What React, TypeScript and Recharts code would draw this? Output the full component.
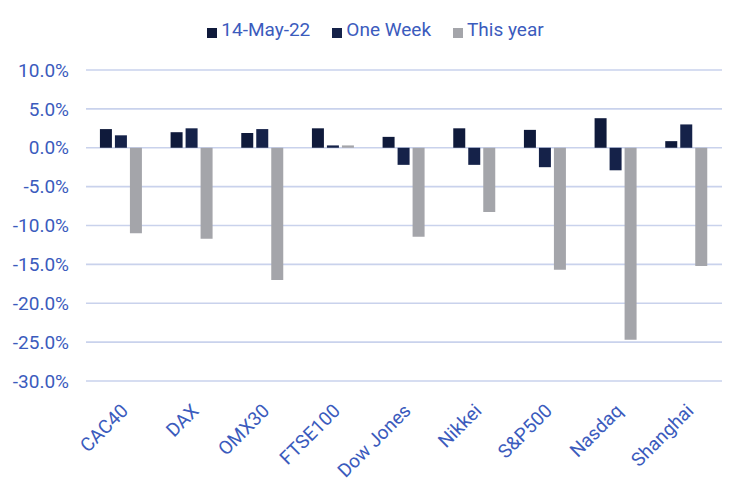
import React from "react";
import { BarChart, Bar, XAxis, YAxis, CartesianGrid, Legend } from "recharts";

const categories = ["CAC40", "DAX", "OMX30", "FTSE100", "Dow Jones", "Nikkei", "S&P500", "Nasdaq", "Shanghai"];
const may14 = [2.4, 2.0, 1.9, 2.5, 1.4, 2.5, 2.3, 3.8, 0.85];
const oneWeek = [1.6, 2.5, 2.4, 0.3, -2.2, -2.2, -2.5, -2.9, 3.0];
const thisYear = [-11.0, -11.7, -17.0, 0.3, -11.45, -8.25, -15.7, -24.7, -15.2];
const yTicks = [-30, -25, -20, -15, -10, -5, 0, 5, 10];

const seriesNames = ["14-May-22", "One Week", "This year"];
const seriesKeys = ["may14", "oneWeek", "thisYear"];
const seriesColors = ["#0f1a3b", "#152249", "#a4a5aa"];

const data = categories.map((c, i) => ({
  name: c,
  may14: may14[i],
  oneWeek: oneWeek[i],
  thisYear: thisYear[i],
}));

const FONT = "Roboto, 'Noto Sans', sans-serif";
const TEXT = "#3b5bbd";
const FS = 19;

const XTick = (props: any) => {
  const { x, y, payload } = props;
  const px = x + 8;
  const py = y;
  return (
    <text
      x={px}
      y={py}
      textAnchor="end"
      fill={TEXT}
      fontSize={FS}
      fontFamily={FONT}
      transform={`rotate(-45 ${px} ${py})`}
    >
      {payload.value}
    </text>
  );
};

const LegendContent = () => (
  <div style={{ height: 70, width: 746, position: "relative" }}>
    <div
      style={{
        position: "absolute",
        top: 18,
        left: 5,
        right: 0,
        display: "flex",
        justifyContent: "center",
        gap: 22,
        fontFamily: FONT,
        fontSize: FS,
        color: TEXT,
        lineHeight: "normal",
      }}
    >
      {seriesNames.map((n, i) => (
        <div key={n} style={{ display: "flex", alignItems: "center" }}>
          <span
            style={{
              display: "inline-block",
              width: 10,
              height: 10,
              background: seriesColors[i],
              marginRight: 4,
              position: "relative",
              top: 3,
            }}
          />
          <span>{n}</span>
        </div>
      ))}
    </div>
  </div>
);

export default function App() {
  return (
    <div style={{ position: "absolute", left: 0, top: 0, width: 746, height: 492, background: "#fff" }}>
      <BarChart
        width={746}
        height={492}
        data={data}
        margin={{ top: 0, right: 24, bottom: 0, left: 0 }}
        barCategoryGap="19.7%"
        barGap={3}
      >
        <CartesianGrid horizontal vertical={false} stroke="#c9d2ec" strokeWidth={1.6} />
        <XAxis
          dataKey="name"
          axisLine={false}
          tickLine={false}
          tickSize={0}
          tickMargin={31}
          height={111}
          interval={0}
          tick={<XTick />}
        />
        <YAxis
          domain={[-30, 10]}
          ticks={yTicks}
          width={86}
          axisLine={false}
          tickLine={false}
          tickSize={0}
          tickMargin={17}
          tickFormatter={(v: number) => `${v.toFixed(1)}%`}
          tick={{ fill: TEXT, fontSize: FS, fontFamily: FONT }}
          interval={0}
        />
        <Legend
          verticalAlign="top"
          align="center"
          content={<LegendContent />}
          wrapperStyle={{ left: 0, top: 0, width: 746 }}
        />
        {seriesKeys.map((k, i) => (
          <Bar key={k} dataKey={k} name={seriesNames[i]} fill={seriesColors[i]} isAnimationActive={false} />
        ))}
      </BarChart>
    </div>
  );
}
